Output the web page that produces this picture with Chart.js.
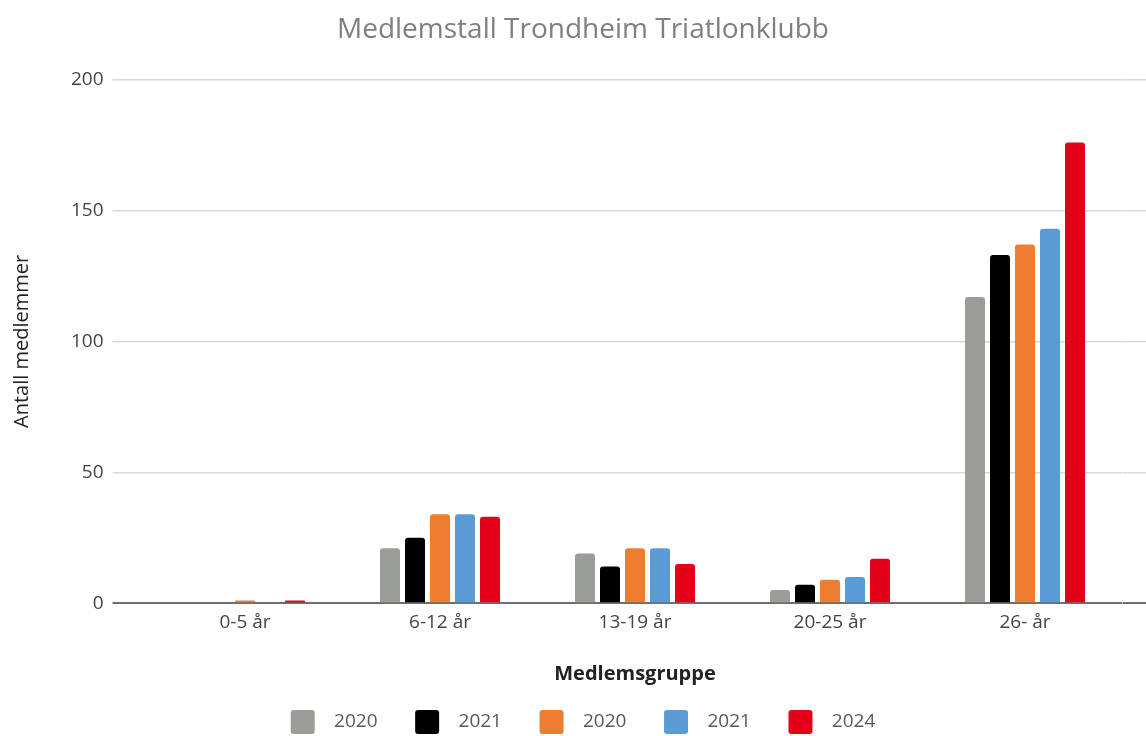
<!DOCTYPE html>
<html lang="no">

<head>
    <meta charset="UTF-8">
    <meta name="viewport" content="width=device-width, initial-scale=1.0">
    <title>Medlemstall</title>
    <script src="https://cdn.jsdelivr.net/npm/chart.js"></script>
    <style>
        body { margin: 0; background: #fff; overflow: hidden; }
        .wrap { width: 1146px; height: 736px; overflow: hidden; }
        .graph { width: 1166px; height: 744px; }
    </style>
</head>

<body>
    <div class="wrap">
        <div class="graph">
            <canvas id="barChart"></canvas>
        </div>
    </div>
</body>

</html>
<script>
    // data
    const grupper = ["0-5 år", "6-12 år", "13-19 år", "20-25 år", "26- år"];
    const aar = ["2020", "2021", "2020", "2021", "2024"];
    const farger = ["#9a9d98", "#000000", "#ed7d31", "#5b9bd5", "#e50019"];
    const serie1 = [0, 21, 19, 5, 117];
    const serie2 = [0, 25, 14, 7, 133];
    const serie3 = [1, 34, 21, 9, 137];
    const serie4 = [0, 34, 21, 10, 143];
    const serie5 = [1, 33, 15, 17, 176];
    const yTicks = [0, 50, 100, 150, 200];

    const font = "'Open Sans', sans-serif";
    const serier = [serie1, serie2, serie3, serie4, serie5];

    function gridColor(ctx) {
        return ctx.tick && ctx.tick.value === 0 ? "#6e6e6e" : "#d9d9d9";
    }
    function gridWidth(ctx) {
        return ctx.tick && ctx.tick.value === 0 ? 2 : 1.5;
    }

    const config = {
        type: "bar",
        data: {
            labels: grupper,
            datasets: serier.map(function (s, i) {
                return {
                    label: aar[i],
                    data: s,
                    backgroundColor: farger[i],
                    borderRadius: 3,
                    borderSkipped: "start",
                    categoryPercentage: 0.641,
                    barPercentage: 0.8
                };
            })
        },
        options: {
            responsive: true,
            maintainAspectRatio: false,
            animation: false,
            layout: { padding: 0 },
            plugins: {
                title: {
                    display: true,
                    text: "Medlemstall Trondheim Triatlonklubb",
                    color: "#7f7f7f",
                    font: { family: font, size: 28, weight: "normal" },
                    padding: { top: 13, bottom: 33 }
                },
                legend: {
                    position: "bottom",
                    labels: {
                        boxWidth: 24,
                        boxHeight: 24,
                        padding: 8,
                        color: "#595959",
                        font: { family: font, size: 19 },
                        useBorderRadius: true,
                        borderRadius: 3,
                        generateLabels: function (chart) {
                            const items = Chart.defaults.plugins.legend.labels.generateLabels(chart);
                            items.forEach(function (it, i) {
                                it.text = "  " + it.text + (i < items.length - 1 ? "      " : "");
                                it.lineWidth = 0;
                            });
                            return items;
                        }
                    }
                },
                tooltip: { enabled: false }
            },
            scales: {
                x: {
                    grid: { display: false, drawTicks: false },
                    border: { display: false },
                    ticks: {
                        color: "#444",
                        padding: 8,
                        font: { family: font, size: 19 }
                    },
                    title: {
                        display: true,
                        text: "Medlemsgruppe",
                        color: "#222",
                        font: { family: font, size: 20, weight: "bold" },
                        padding: { top: 20, bottom: 16 }
                    }
                },
                y: {
                    min: 0,
                    max: 200,
                    afterBuildTicks: function (scale) {
                        scale.ticks = yTicks.map(function (v) { return { value: v }; });
                    },
                    afterFit: function (scale) { scale.width = 147.5; },
                    grid: { color: gridColor, lineWidth: gridWidth, tickLength: 35 },
                    border: { display: false },
                    ticks: {
                        color: "#444",
                        padding: 9,
                        font: { family: font, size: 19 }
                    },
                    title: {
                        display: true,
                        text: "Antall medlemmer",
                        color: "#222",
                        font: { family: font, size: 20 },
                        padding: { top: 10, bottom: 0 }
                    }
                },
                // right-hand axis only carries the gridlines past the last group
                y2: {
                    position: "right",
                    min: 0,
                    max: 200,
                    afterBuildTicks: function (scale) {
                        scale.ticks = yTicks.map(function (v) { return { value: v }; });
                    },
                    afterFit: function (scale) { scale.width = 43.5; },
                    grid: { color: gridColor, lineWidth: gridWidth, tickLength: 44, drawOnChartArea: false },
                    border: { display: false },
                    ticks: { display: false }
                }
            }
        }
    };

    var mychart = new Chart(document.getElementById("barChart"), config);
</script>
